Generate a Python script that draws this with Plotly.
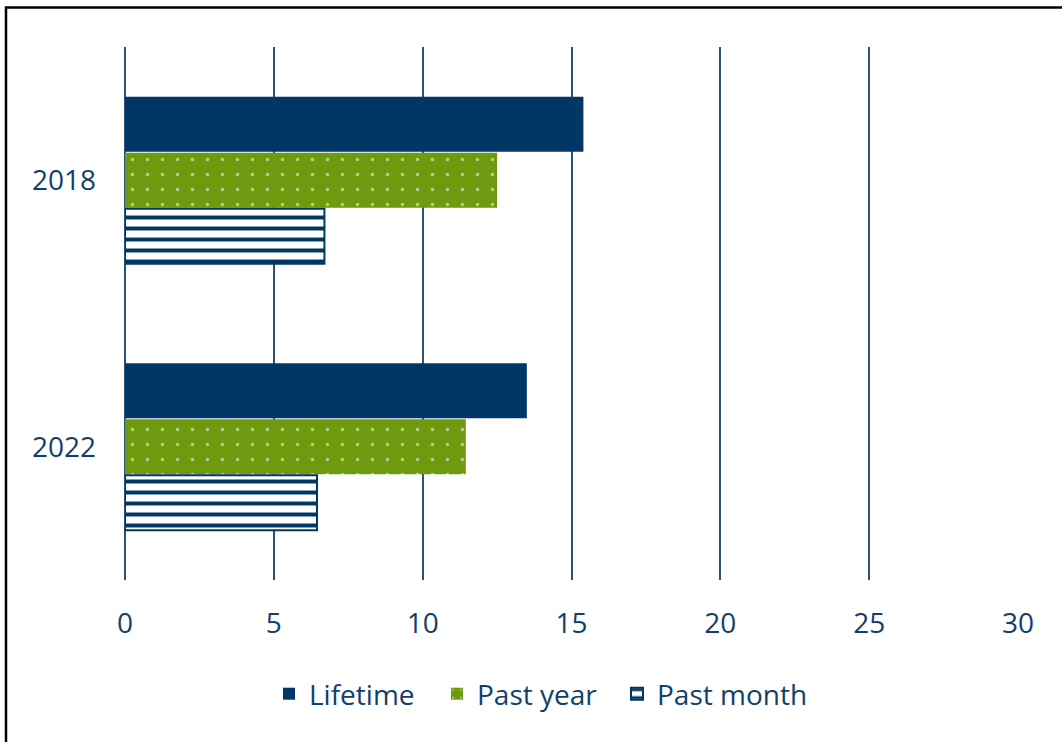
import plotly.graph_objects as go

years = ["2018", "2022"]
lifetime = [15.4, 13.5]
past_year = [12.5, 11.45]
past_month = [6.7, 6.45]
x_ticks = [0, 5, 10, 15, 20, 25, 30]

NAVY = "#003764"
GREEN = "#6f9a0e"
TEXT = "#123f6c"
GRID = "#2b527a"

fig = go.Figure()
fig.add_trace(go.Bar(
    name="Lifetime", y=years, x=lifetime, orientation="h", legend="legend",
    marker=dict(color=NAVY, line=dict(width=0)),
))
fig.add_trace(go.Bar(
    name="Past year", y=years, x=past_year, orientation="h", legend="legend2",
    marker=dict(color=GREEN, line=dict(width=0),
                pattern=dict(shape=".", fgcolor="white", bgcolor=GREEN,
                             size=15, solidity=0.045, fillmode="overlay")),
))
fig.add_trace(go.Bar(
    name="Past month", y=years, x=past_month, orientation="h", legend="legend3",
    marker=dict(color="white", line=dict(color=NAVY, width=2),
                pattern=dict(shape="-", fgcolor=NAVY, fgopacity=1, bgcolor="white",
                             size=11, solidity=0.36, fillmode="overlay")),
))

L, R, T, B = 125, 44, 47, 162
W, H = 1062, 742
pw, ph = W - L - R, H - T - B


def leg(px):
    return dict(orientation="h", x=(px - L) / pw, xanchor="left",
                y=(H - B - 694) / ph, yanchor="middle",
                font=dict(size=28, color=TEXT), itemwidth=30,
                bgcolor="rgba(0,0,0,0)")


fig.update_layout(
    width=W, height=H,
    margin=dict(l=L, r=R, t=T, b=B),
    paper_bgcolor="white", plot_bgcolor="white",
    barmode="group", bargap=0.37, bargroupgap=0.02,
    font=dict(family="Open Sans", size=28, color=TEXT),
    showlegend=True,
    legend=leg(269), legend2=leg(437), legend3=leg(617),
    xaxis=dict(range=[0, 30], tickvals=x_ticks, showgrid=True,
               gridcolor=GRID, gridwidth=1.7, zeroline=True,
               zerolinecolor=GRID, zerolinewidth=2, showline=False,
               ticks="", ticklabelstandoff=24, fixedrange=True),
    yaxis=dict(categoryorder="array", categoryarray=years,
               autorange="reversed", showgrid=False, zeroline=False,
               showline=False, ticks="", ticklabelstandoff=28),
    shapes=[dict(type="rect", xref="paper", yref="paper",
                 x0=(6 - L) / pw, x1=1.3, y0=-0.6, y1=1 + (T - 7.5) / ph,
                 line=dict(color="black", width=2.5), fillcolor="rgba(0,0,0,0)",
                 layer="below")],
)

fig.write_html("out.html")
